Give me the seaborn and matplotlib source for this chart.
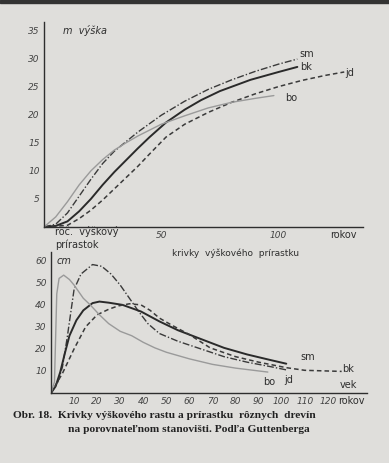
import numpy as np
import pandas as pd
import matplotlib
matplotlib.use('Agg')
import matplotlib.pyplot as plt
import seaborn as sns

# --- výškový rast (m) ---
bo_age = [0, 5, 10, 15, 20, 25, 30, 35, 40, 50, 60, 70, 80, 90, 98]
bo_h = [0, 1.8, 4.5, 7.5, 10, 12, 13.7, 15, 16.2, 18.3, 19.8, 21.2, 22.2, 22.9, 23.4]
sm_age = [0, 5, 10, 15, 20, 25, 30, 35, 40, 50, 60, 70, 80, 90, 100, 108]
sm_h = [0, 0.5, 2.5, 5.5, 8.5, 11.3, 13.5, 15.2, 16.9, 19.9, 22.4, 24.5, 26.2, 27.7, 29.0, 29.9]
bk_age = [0, 5, 10, 15, 20, 25, 30, 35, 40, 45, 52, 60, 67, 75, 88, 100, 108]
bk_h = [0, 0.2, 1, 2.8, 5, 7.5, 9.8, 11.9, 14.0, 16.0, 18.6, 20.9, 22.6, 24.2, 26.2, 27.6, 28.5]
jd_age = [0, 10, 15, 20, 25, 30, 35, 40, 45, 52, 60, 70, 80, 90, 100, 110, 120, 128]
jd_h = [0, 0.3, 1.5, 3, 4.8, 6.8, 8.8, 10.8, 13, 16, 18.3, 20.4, 22.2, 23.7, 25, 26.1, 27, 27.6]

# --- ročný výškový prírastok (cm) ---
bo_inc_age = [0, 1.5, 2, 2.5, 3.5, 5.5, 8, 10, 14, 17, 21, 25, 30, 35, 40, 45, 50, 60, 70, 80, 94]
bo_inc = [0, 5, 25, 45, 52, 53.5, 51.5, 49, 43, 40, 35.5, 31.5, 28, 26, 23, 20.5, 18.5, 15.5, 13, 11.3, 9.5]
sm_inc_age = [0, 3, 5, 7, 10, 13, 18, 22, 26, 30, 34, 38, 42, 47, 55, 65, 75, 85, 95, 102]
sm_inc = [0, 5, 12, 25, 47, 54, 58.3, 57.5, 54, 49, 43, 37, 31.5, 27, 23.5, 20, 16.5, 14, 12, 10.5]
bk_inc_age = [0, 2, 4, 6, 8, 11, 14, 18, 21, 25, 31, 39, 47, 55, 65, 75, 85, 95, 102]
bk_inc = [0, 3, 9.5, 18, 26, 33, 37.5, 40.8, 41.5, 41, 40, 37, 32.5, 28.5, 24.5, 20.5, 17.5, 15, 13.3]
jd_inc_age = [0, 5, 10, 15, 20, 25, 29, 34, 39, 43, 47, 52, 60, 69, 80, 90, 102, 110, 126]
jd_inc = [0, 9, 20, 30, 35.5, 38, 39.5, 40.5, 40, 37.5, 34, 31, 26.5, 20.5, 16.5, 14, 11.5, 10.3, 9.8]

W, H = 389, 463
ink = '#2e2e2e'
paper = '#dfdedb'

sns.set_theme(style='white')
plt.rcParams['font.family'] = ['DejaVu Sans']

fig = plt.figure(figsize=(W / 100, H / 100), dpi=100, facecolor=paper)


def px_axes(x0, y0, x1, y1):
    # obdĺžnik osí v pixeloch (počiatok vľavo hore)
    return fig.add_axes([x0 / W, 1 - y1 / H, (x1 - x0) / W, (y1 - y0) / H])


def style_axes(ax):
    ax.set_facecolor('none')
    for s in ['top', 'right']:
        ax.spines[s].set_visible(False)
    for s in ['left', 'bottom']:
        ax.spines[s].set_color(ink)
        ax.spines[s].set_linewidth(1.0)
    ax.tick_params(which='both', direction='inout', length=3, width=0.7, colors=ink,
                   labelsize=6.5, pad=1.5)
    for lab in ax.get_xticklabels() + ax.get_yticklabels():
        lab.set_fontstyle('italic')
        lab.set_color('#444444')
    ax.set_xlabel('')
    ax.set_ylabel('')


styles = {
    'sm': dict(color='#3a3a3a', linestyle=(0, (5, 1.5, 1, 1.5)), linewidth=1.0),
    'bk': dict(color='#2a2a2a', linestyle='-', linewidth=1.4),
    'jd': dict(color='#3a3a3a', linestyle=(0, (3, 2)), linewidth=1.1),
    'bo': dict(color='#9a9a9a', linestyle='-', linewidth=1.0),
}

# ---------- horný graf ----------
ax1 = px_axes(44, 22, 363, 227)
growth = {'sm': (sm_age, sm_h), 'bk': (bk_age, bk_h), 'jd': (jd_age, jd_h), 'bo': (bo_age, bo_h)}
for name, (a, h) in growth.items():
    df = pd.DataFrame({'vek': a, 'vyska': h})
    sns.lineplot(data=df, x='vek', y='vyska', ax=ax1, **styles[name])
ax1.set_xlim(0, 136)
ax1.set_ylim(0, 36.5)
ax1.set_xticks([50, 100])
ax1.set_xticks(np.arange(10, 131, 10), minor=True)
ax1.set_yticks([5, 10, 15, 20, 25, 30, 35])
style_axes(ax1)
ax1.tick_params(axis='x', which='minor', length=2)
ax1.text(8, 35, 'm  výška', fontsize=7, color=ink, va='center', style='italic')
ax1.text(122, -0.6, 'rokov', fontsize=7, color=ink, va='top')
for name, (x, y) in {'sm': (109, 30.8), 'bk': (109, 28.4), 'jd': (128.5, 27.5), 'bo': (103, 23.0)}.items():
    ax1.text(x, y, name, fontsize=7, color=ink, va='center')

# ---------- dolný graf ----------
ax2 = px_axes(51, 252, 367, 393)
incr = {'sm': (sm_inc_age, sm_inc), 'bk': (bk_inc_age, bk_inc), 'jd': (jd_inc_age, jd_inc),
        'bo': (bo_inc_age, bo_inc)}
for name, (a, v) in incr.items():
    df = pd.DataFrame({'vek': a, 'prirastok': v})
    sns.lineplot(data=df, x='vek', y='prirastok', ax=ax2, sort=False, **styles[name])
ax2.set_xlim(0, 137)
ax2.set_ylim(0, 64)
ax2.set_xticks(np.arange(10, 121, 10))
ax2.set_yticks([10, 20, 30, 40, 50, 60])
style_axes(ax2)
ax2.text(2.5, 60, 'cm', fontsize=7, color=ink, va='center', style='italic')
ax2.text(124.5, -1.5, 'rokov', fontsize=7, color=ink, va='top')
for name, (x, y) in {'sm': (108, 16.4), 'bk': (126, 11), 'jd': (101, 5.8), 'bo': (92, 5.2),
                     'vek': (125, 3.5)}.items():
    ax2.text(x, y, name, fontsize=7, color=ink, va='center')

fig.text(55 / W, 1 - 232 / H, 'roč.  výškový', fontsize=7, color=ink, va='center')
fig.text(55 / W, 1 - 245 / H, 'prírastok', fontsize=7, color=ink, va='center')
fig.text(172 / W, 1 - 253 / H, 'krivky  výškového  prírastku', fontsize=6.5, color=ink, va='center')

cap_font = ['Liberation Serif', 'DejaVu Serif']
fig.text(13 / W, 1 - 416 / H, 'Obr. 18.  Krivky výškového rastu a prírastku  rôznych  drevín',
         fontsize=8.2, fontweight='bold', family=cap_font, color='#222222', va='center')
fig.text(68 / W, 1 - 430 / H, 'na porovnateľnom stanovišti. Podľa Guttenberga',
         fontsize=8.2, fontweight='bold', family=cap_font, color='#222222', va='center')

# tmavý okraj skenu hore
fig.patches.append(plt.Rectangle((0, 1 - 3 / H), 1, 3 / H, transform=fig.transFigure,
                                 color='#333333', zorder=0))

fig.savefig('out.png', dpi=100, facecolor=paper)
